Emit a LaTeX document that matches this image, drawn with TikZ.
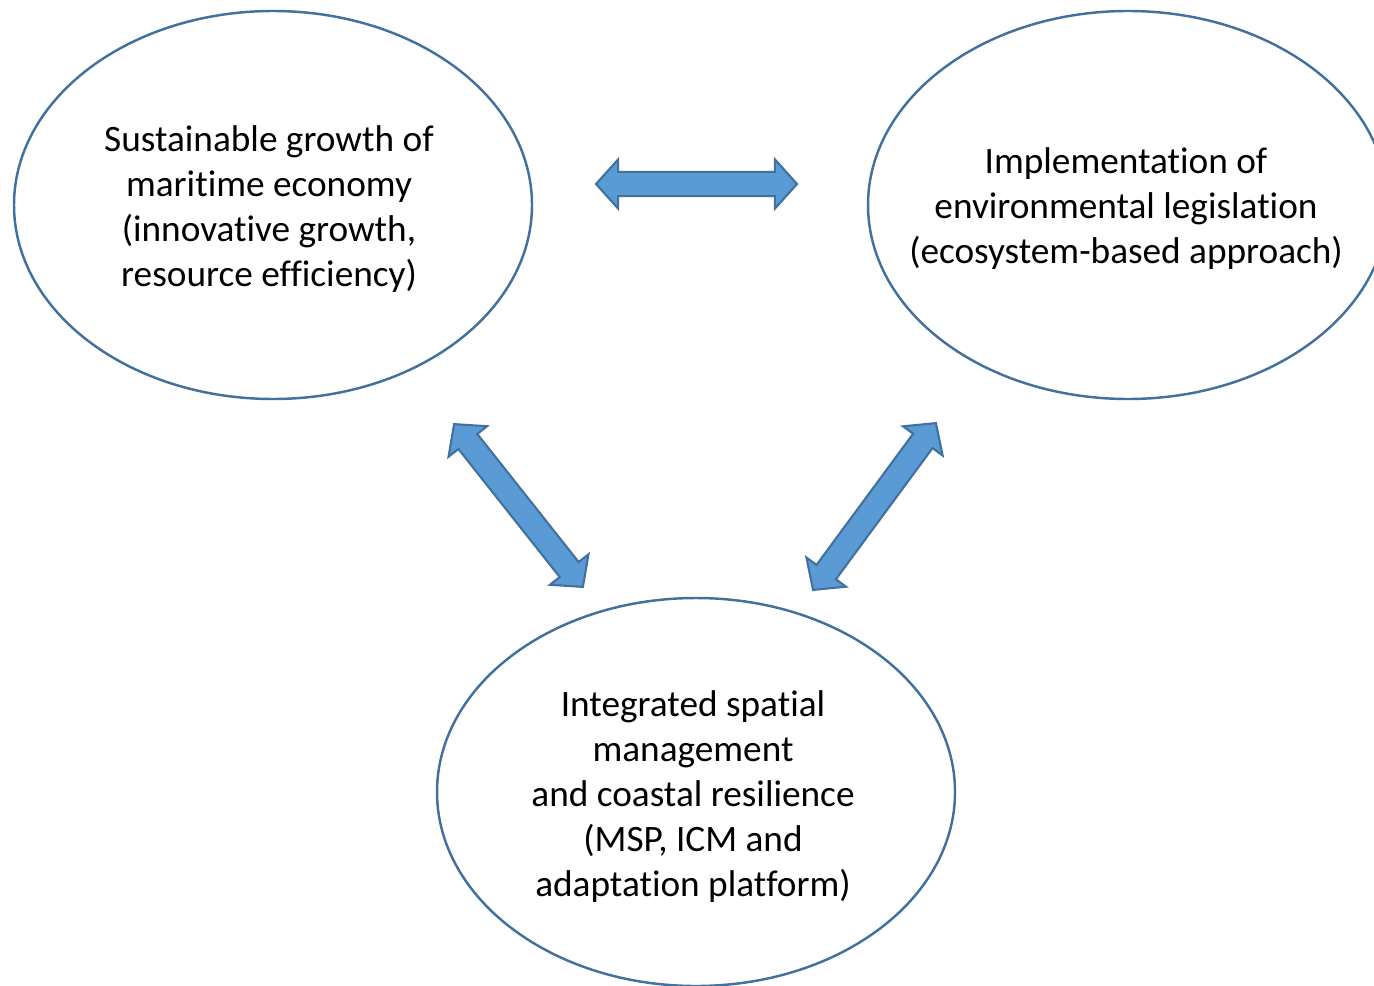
\documentclass[tikz,border=0pt]{standalone}
\usepackage{fontspec}
\setmainfont{Carlito}[RawFeature={-liga;-clig}]
\usetikzlibrary{calc,shapes.arrows}
\definecolor{edgeblue}{RGB}{65,113,156}
\definecolor{arrowblue}{RGB}{91,155,213}
\tikzset{bubble/.style = {draw=edgeblue, line width=0.7pt}}
\tikzset{label text/.style = {align=center, font=\fontsize{10.6}{12.8}\selectfont}}
\tikzset{link arrow/.style = {double arrow, draw=edgeblue, fill=arrowblue, line width=0.6pt,
                              double arrow head extend=0.125cm, double arrow tip angle=96,
                              inner xsep=0pt, inner ysep=0.11cm, outer sep=0pt}}
\newcommand{\blockarrow}[2]{%
  \path let \p1 = ($(#2)-(#1)$) in
    node [link arrow, minimum height={veclen(\x1,\y1)}, rotate={atan2(\y1,\x1)}]
      at ($(#1)!0.5!(#2)$) {};}

\begin{document}
\begin{tikzpicture}[x = 0.01cm, y = -0.01cm]
      \useasboundingbox (0, 0) rectangle (1374, 985);
      \clip (0, 0) rectangle (1374, 985);
      \draw [bubble] (273, 205) ellipse [x radius = 259, y radius = 194];
      \draw [bubble] (1128, 205) ellipse [x radius = 260, y radius = 194];
      \draw [bubble] (696, 792) ellipse [x radius = 259, y radius = 194];
      \node [label text] (econ) at (269, 209) {Sustainable growth of\\maritime economy\\(innovative growth,\\resource efficiency)};
      \node [label text] (envi) at (1126, 209) {Implementation of\\environmental legislation\\(ecosystem-based approach)};
      \node [label text] (space) at (693, 797) {Integrated spatial\\management\\and coastal resilience\\(MSP, ICM and\\adaptation platform)};
      % arrow ends
      \coordinate (ea) at (596, 184);
      \coordinate (eb) at (797, 184);
      \coordinate (sa) at (454, 424);
      \coordinate (sb) at (583, 587);
      \coordinate (ra) at (813, 590);
      \coordinate (rb) at (936, 423);
      \blockarrow{ea}{eb}
      \blockarrow{sa}{sb}
      \blockarrow{ra}{rb}
    \end{tikzpicture}
\end{document}
